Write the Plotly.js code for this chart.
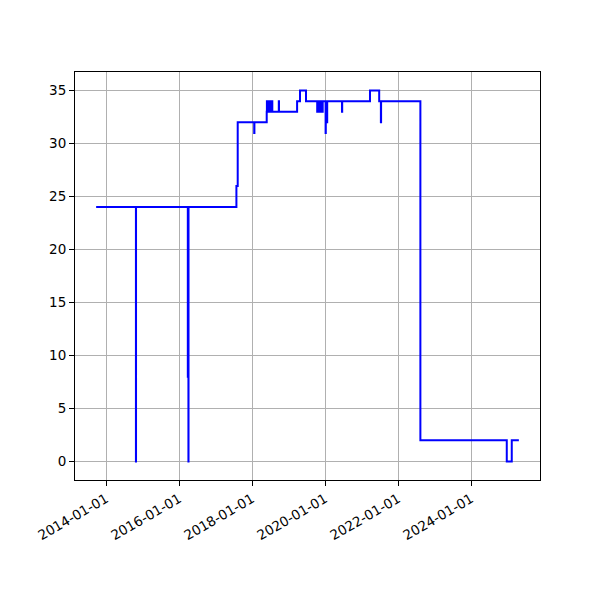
<!DOCTYPE html>
<html>
<head>
<meta charset="utf-8">
<script src="https://cdn.plot.ly/plotly-3.0.1.min.js"></script>
<style>html,body{margin:0;padding:0;background:#fff;}#chart{width:600px;height:600px;}</style>
</head>
<body>
<div id="chart"></div>
<script>
const dates = [
  "2013-09-24","2014-10-27","2014-10-28",
  "2016-03-29","2016-03-30","2016-04-04","2016-04-05",
  "2017-07-28","2017-08-10","2018-01-22","2018-01-24","2018-05-27",
  "2018-05-29","2018-06-03","2018-06-08","2018-06-13","2018-06-18","2018-06-23",
  "2018-06-28","2018-07-03","2018-07-08","2018-07-13","2018-07-18","2018-07-22",
  "2018-09-25","2018-09-27","2019-03-27","2019-04-25","2019-06-24",
  "2019-10-14","2019-10-19","2019-10-24","2019-10-29","2019-11-03","2019-11-08",
  "2019-11-13","2019-11-18","2019-11-23","2019-11-28","2019-12-03","2019-12-08",
  "2020-01-06","2020-01-08","2020-01-20","2020-01-22","2020-06-18","2020-06-20",
  "2021-03-25","2021-06-25","2021-07-12","2021-07-14","2022-08-11",
  "2024-12-22","2025-02-10","2025-04-22"
];
const values = [
  24,0,24,
  8,24,0,24,
  26,32,31,32,33,
  34,33,34,33,34,33,
  34,33,34,33,34,33,
  34,33,34,35,34,
  33,34,33,34,33,34,
  33,34,33,34,33,34,
  31,34,32,34,33,34,
  35,34,32,34,2,
  0,2,2
];
const yTicks = [0,5,10,15,20,25,30,35];
const xTicks = ["2014-01-01","2016-01-01","2018-01-01","2020-01-01","2022-01-01","2024-01-01"];

const t = dates.map(d => new Date(d + "T00:00:00Z").getTime());
const tmin = Math.min(...t), tmax = Math.max(...t);
const pad = (tmax - tmin) * 0.05;
const fmt = ms => new Date(ms).toISOString().slice(0,19).replace("T"," ");
const vmin = Math.min(...values), vmax = Math.max(...values);
const vpad = (vmax - vmin) * 0.05;

const trace = {
  x: dates, y: values, type: "scatter", mode: "lines",
  line: {color: "#0000ff", width: 2, shape: "hv"},
  hoverinfo: "skip"
};
const font = {family: "DejaVu Sans, sans-serif", size: 13.5, color: "#000"};
const layout = {
  width: 600, height: 600,
  margin: {l: 75, r: 60, t: 72, b: 120},
  paper_bgcolor: "#fff", plot_bgcolor: "#fff",
  showlegend: false,
  font: font,
  xaxis: {
    type: "date",
    range: [fmt(tmin - pad), fmt(tmax + pad)],
    tickmode: "array", tickvals: xTicks, ticktext: xTicks,
    tickangle: -30,
    showgrid: true, gridcolor: "#b0b0b0", gridwidth: 1,
    ticks: "outside", ticklen: 5, tickwidth: 1, tickcolor: "#000",
    showline: true, linecolor: "#000", linewidth: 1, mirror: true,
    zeroline: false, tickfont: font
  },
  yaxis: {
    range: [vmin - vpad, vmax + vpad],
    tickmode: "array", tickvals: yTicks,
    showgrid: true, gridcolor: "#b0b0b0", gridwidth: 1,
    ticks: "outside", ticklen: 5, tickwidth: 1, tickcolor: "#000",
    showline: true, linecolor: "#000", linewidth: 1, mirror: true,
    zeroline: false, tickfont: font
  }
};
Plotly.newPlot("chart", [trace], layout, {displayModeBar: false, staticPlot: true});
</script>
</body>
</html>
